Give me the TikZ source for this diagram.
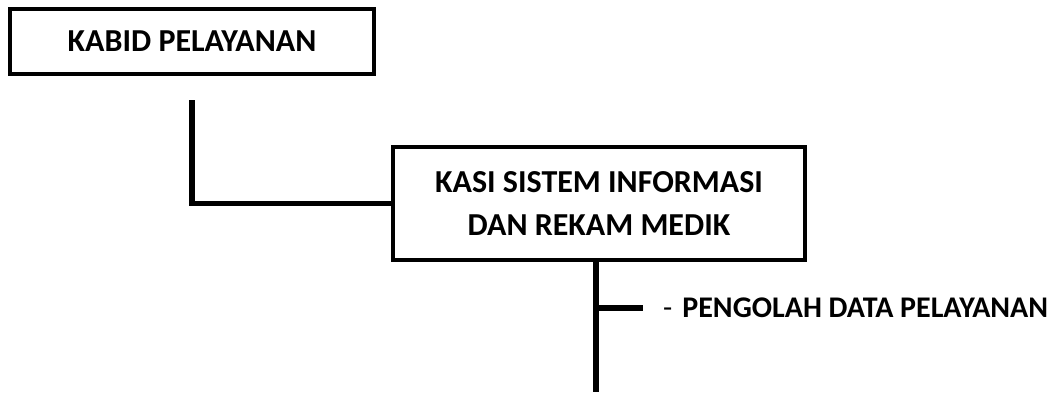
\documentclass[tikz,border=0pt]{standalone}
\usepackage{fontspec}
\setmainfont{Carlito}
\tikzset{
  jabatan/.style={draw, line width=4.5pt, rectangle, inner sep=0pt,
    font=\bfseries\fontsize{32}{43}\selectfont, align=center},
  garis/.style={line width=5.5pt},
  staf/.style={anchor=west, inner sep=0pt, font=\fontsize{30}{43}\selectfont}
}
\begin{document}
\begin{tikzpicture}[x=1pt, y=-1pt]
        \useasboundingbox (0,0) rectangle (1053,392);
        \node[jabatan, minimum width=364pt, minimum height=65pt] (kabid) at (192, 41.5) {KABID PELAYANAN};
        \node[jabatan, minimum width=412pt, minimum height=113pt] (kasi) at (599, 203.5) {KASI SISTEM INFORMASI\\DAN REKAM MEDIK};
        \coordinate (t0) at (192, 100);
        \coordinate (t1) at (596, 260);
        \coordinate (t2) at (596, 392);
        \coordinate (c0) at (596, 308);
        \coordinate (c1) at (643, 308);
        \node[staf] (v0) at (663, 308) {-\hspace{10pt}\textbf{PENGOLAH DATA PELAYANAN}};
        \draw[garis] (t0) |- (kasi.west);
        \draw[garis] (t1) -- (t2);
        \draw[garis] (c0) -- (c1);
\end{tikzpicture}
\end{document}
